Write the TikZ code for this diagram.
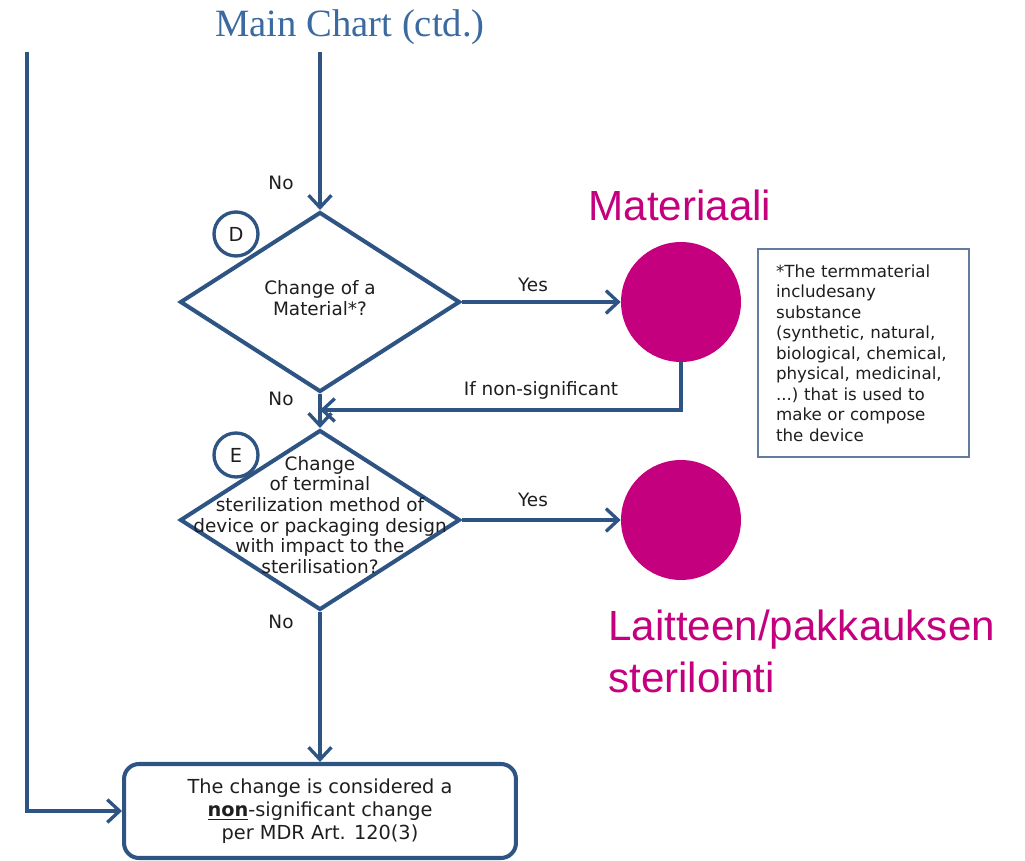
\documentclass[tikz,border=0pt]{standalone}
\usepackage{fontspec}
\setmainfont{DejaVu Sans}
\newfontfamily\titlefont{Liberation Serif}
\newfontfamily\finfont{Liberation Sans}
\usetikzlibrary{shapes.geometric,arrows.meta}
\definecolor{flowblue}{RGB}{46,84,132}
\definecolor{titleblue}{RGB}{58,106,160}
\definecolor{notegray}{RGB}{96,124,162}
\definecolor{finmag}{RGB}{196,0,127}
\definecolor{textdark}{RGB}{30,30,30}
\begin{document}
\begin{tikzpicture}[x=0.02cm,y=-0.02cm,
  flow/.style={flowblue,line width=1.9pt,-{Straight Barb[length=7pt,width=13pt]}},
  decision/.style={diamond,draw=flowblue,line width=2.3pt,minimum width=5.6cm,minimum height=3.6cm,inner sep=0pt},
  qtext/.style={align=center,text=textdark,font=\fontsize{10.5}{11.8}\selectfont},
  letter/.style={circle,draw=flowblue,line width=1.9pt,fill=white,minimum size=0.88cm,inner sep=0pt,text=textdark,font=\fontsize{11}{13}\selectfont},
  lbl/.style={text=textdark,font=\fontsize{10.5}{12}\selectfont},
  dot/.style={circle,fill=finmag,minimum size=2.4cm,inner sep=0pt},
  fin/.style={text=finmag,font=\finfont\fontsize{24}{29.5}\selectfont},
  note/.style={draw=notegray,line width=1.2pt,text width=3.5cm,inner xsep=0.36cm,minimum height=4.16cm,align=left,text=textdark,font=\fontsize{9.5}{11.7}\selectfont},
  result/.style={draw=flowblue,line width=2.3pt,rounded corners=0.3cm,minimum width=7.84cm,minimum height=1.88cm,align=center,text=textdark,font=\fontsize{11}{13}\selectfont}]
\useasboundingbox (0,0) rectangle (1025,861);
\node[text=titleblue,font=\titlefont\fontsize{22}{26}\selectfont] (title) at (350,27) {Main Chart (ctd.)};
\coordinate (maintop) at (320,52);
\coordinate (backtop) at (27,52);
\coordinate (join) at (320,410);
\node[decision] (matq) at (320,302) {};
\node[qtext] (matqtext) at (320,298) {Change of a\\Material*?};
\node[letter] (letd) at (236,234) {D};
\node[dot] (mat) at (681,302) {};
\node[fin] (matname) at (680,205) {Materiaali};
\node[note,anchor=north west] (note) at (757,248) {*The termmaterial\\includesany\\substance\\(synthetic, natural,\\biological, chemical,\\physical, medicinal,\\...)\ that is used to\\make or compose\\the device};
\node[decision] (sterq) at (320,520) {};
\node[qtext] (sterqtext) at (320,515) {Change\\of terminal\\sterilization method of\\device or packaging design\\with impact to the\\sterilisation?};
\node[letter] (lete) at (236,455) {E};
\node[dot] (ster) at (681,520) {};
\node[fin,align=left,anchor=north west] (stername) at (602,604) {Laitteen/pakkauksen\\sterilointi};
\node[result] (result) at (320,811) {The change is considered a\\\underline{\textbf{non}}-significant change\\per MDR Art. 120(3)};
\node[lbl] (no1) at (281,183) {No};
\node[lbl] (no2) at (281,399) {No};
\node[lbl] (no3) at (281,622) {No};
\node[lbl] (yes1) at (533,285) {Yes};
\node[lbl] (yes2) at (533,500) {Yes};
\node[lbl] (back) at (541,390) {If non-significant};
\draw[flow] (maintop) -- (matq.north);
\draw[flow] (matq.east) -- (mat.west);
\draw[flow] (mat.south) |- (join);
\draw[flow] (matq.south) -- (sterq.north);
\draw[flow] (sterq.east) -- (ster.west);
\draw[flow] (sterq.south) -- (result.north);
\draw[flow] (backtop) |- (result.west);
\end{tikzpicture}
\end{document}
